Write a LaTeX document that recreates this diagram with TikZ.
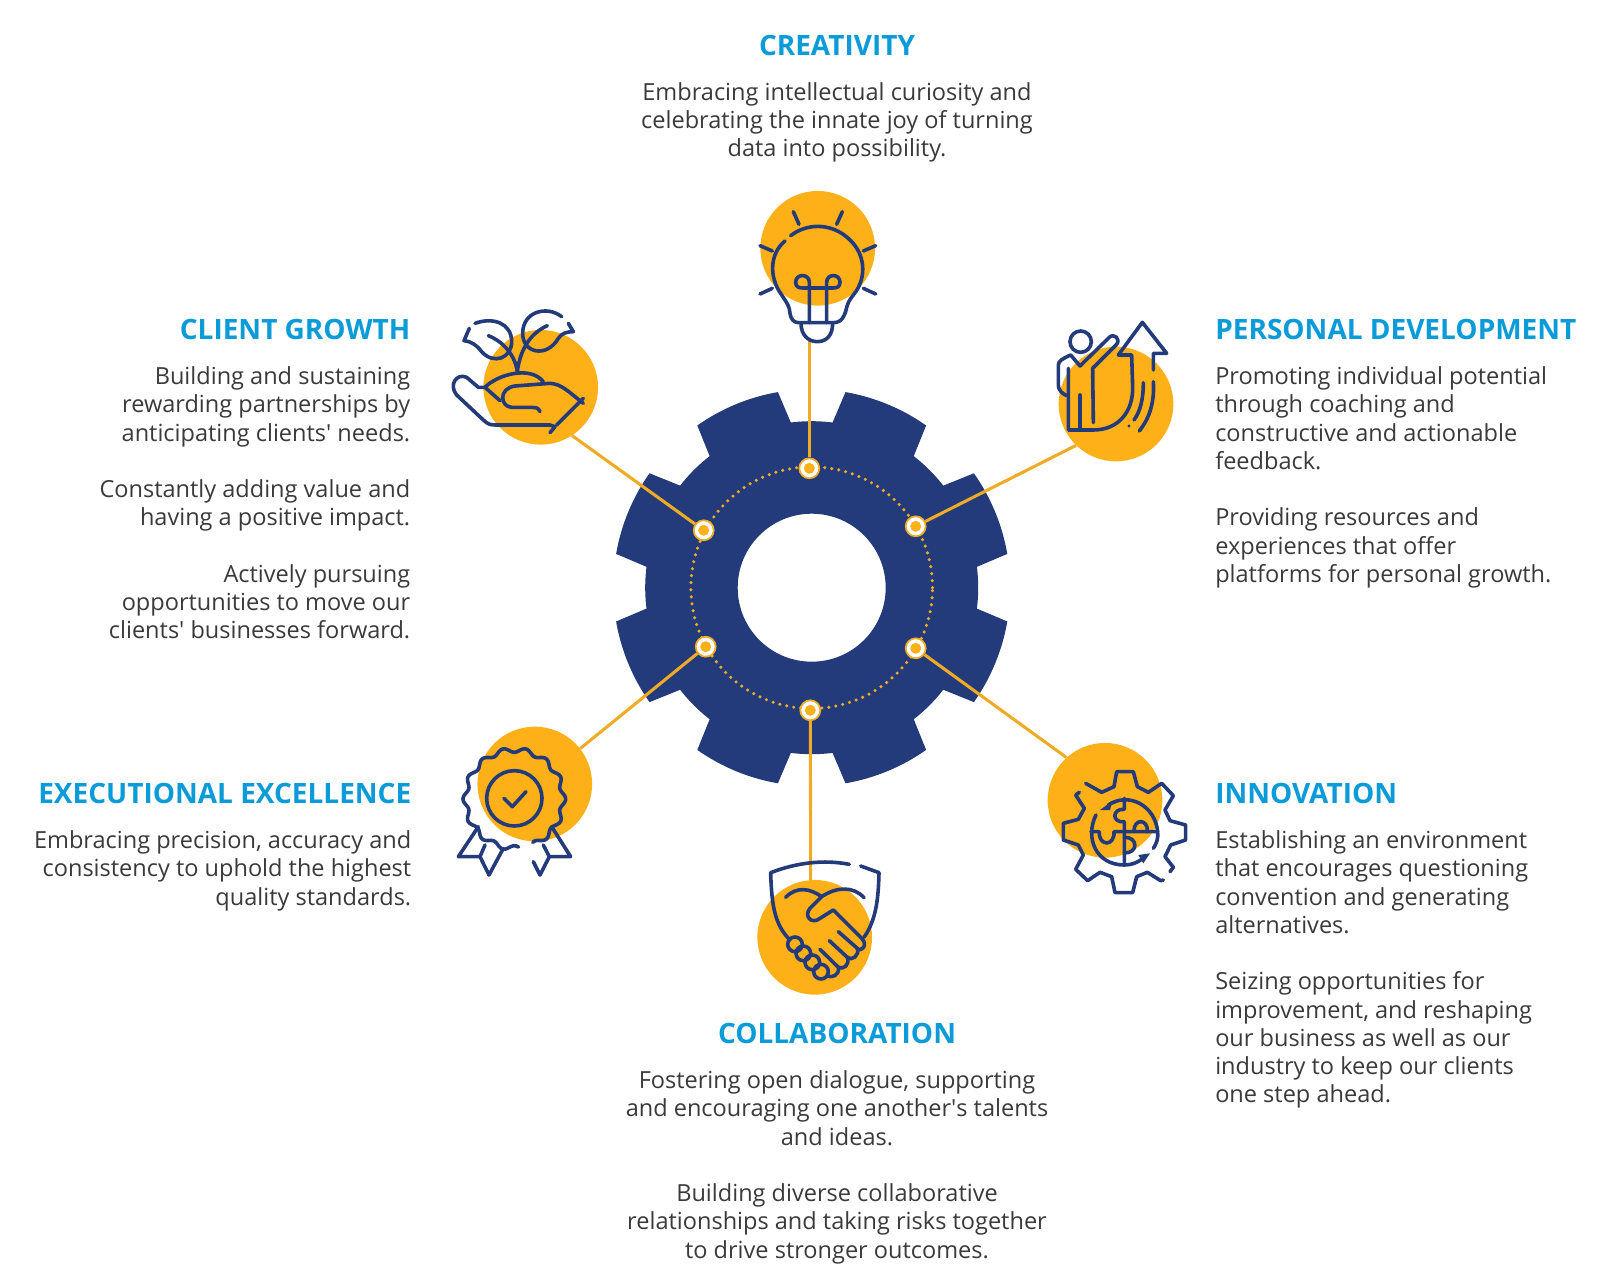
\documentclass[tikz,border=0pt]{standalone}
\usepackage{fontspec}
\setmainfont{Open Sans}
\definecolor{gearblue}{HTML}{233B7A}
\definecolor{spotorange}{HTML}{FDB018}
\definecolor{lineorange}{HTML}{EFAB25}
\definecolor{headblue}{HTML}{0A9BD8}
\definecolor{bodygrey}{HTML}{3A3A3A}
\tikzset{
	spot/.style={circle, fill=spotorange, inner sep=0, minimum size=86pt},
	marker/.style={circle, fill=white, draw=lineorange, line width=1.3pt, inner sep=0, minimum size=15pt,
		path picture={\fill [spotorange] (path picture bounding box.center) circle (4.1pt);}},
	link/.style={draw=lineorange, line width=2.3pt},
	iconline/.style={draw=gearblue, line width=2.7pt, line cap=round, line join=round},
	heading/.style={font=\fontsize{21}{25}\selectfont\bfseries, text=headblue, inner sep=0},
	blurb/.style={font=\fontsize{17.65}{21.17}\selectfont, text=bodygrey, inner sep=0}
}
\begin{document}
\begin{tikzpicture}[x=0.75pt, y=-0.75pt]
	\useasboundingbox (0,0) rectangle (1600,1287);

	\begin{scope}[shift={(811.7,587.7)}, y=0.75pt]
		\fill [gearblue, even odd rule] (0,0) circle (166.5) (0,0) circle (74);
		\foreach \a in {0,45,...,315}
			\fill [gearblue] (\a+7.2:160) -- (\a+7.2:166.5) -- (\a+9.8:198.5) arc (\a+9.8:\a+35.2:198.5) -- (\a+37.8:166.5) -- (\a+37.8:160) -- cycle;
	\end{scope}
	\draw [lineorange, line width=2.6pt, line cap=round, dash pattern=on 0pt off 5.3pt] (811.7,587.7) circle [radius=90.6pt];

	\node [spot] (creativity) at (817.7,248.3) {};
	\node [spot] (personal) at (1116,404) {};
	\node [spot] (innovation) at (1105,800.3) {};
	\node [spot] (collab) at (814.7,937.3) {};
	\node [spot] (excellence) at (534.8,784) {};
	\node [spot] (client) at (540.7,387.3) {};

	\node [marker] (mcreativity) at (809.3,468.3) {};
	\node [marker] (mpersonal) at (915.7,526.3) {};
	\node [marker] (minnovation) at (915.7,648.3) {};
	\node [marker] (mcollab) at (810.3,710.3) {};
	\node [marker] (mexcellence) at (705.7,646.7) {};
	\node [marker] (mclient) at (703.7,530.3) {};

	\coordinate (bulbend) at (809.3,340);
	\draw [link] (mcreativity) -- (bulbend);
	\draw [link] (mpersonal) -- (personal.226.7);
	\draw [link] (minnovation) -- (innovation.132.7);
	\draw [link] (mcollab) -- (collab.94);
	\draw [link] (mexcellence) -- (excellence.38.3);
	\draw [link] (mclient) -- (client.-57);

	% bulb
	\begin{scope}[shift={(730,170)}, scale=1/3, iconline]
		\draw (182,197) .. controls (230,160) and (297,160) .. (345,197) .. controls (410,245) and (412,325) .. (370,375) .. controls (345,405) and (352,420) .. (342,437) .. controls (335,452) and (325,458) .. (310,458) -- (205,458) .. controls (190,458) and (182,445) .. (180,430) .. controls (178,410) and (175,405) .. (155,375) .. controls (115,320) and (120,250) .. (165,213);
		\draw (213,460) .. controls (213,495) and (235,515) .. (262,515) .. controls (290,515) and (308,495) .. (308,460);
		\draw (238,458) -- (238,337) .. controls (238,310) and (197,310) .. (197,337) .. controls (197,350) and (205,354) .. (219,354) -- (308,354) .. controls (322,354) and (330,350) .. (330,337) .. controls (330,310) and (290,310) .. (290,337) -- (290,458);
		\draw (190,125) -- (207,163) (337,125) -- (320,163);
		\draw (90,227) -- (127,243) (437,227) -- (400,243);
		\draw (90,372) -- (127,355) (437,372) -- (400,355);
	\end{scope}

	% person and arrow
	\begin{scope}[shift={(1030,300)}, scale=1/3, iconline]
		\draw (152,125) circle [radius=32];
		\draw (110,287) .. controls (95,280) and (85,270) .. (85,255) -- (85,195) .. controls (85,182) and (100,175) .. (122,165) -- (150,198) -- (238,112) .. controls (252,98) and (275,118) .. (258,135) -- (188,205) -- (190,368);
		\draw (115,205) -- (115,390) -- (190,390) .. controls (265,390) and (310,335) .. (308,260) -- (305,165) -- (265,165) -- (337,67) -- (410,160) -- (370,160) -- (370,210);
		\draw (150,285) -- (150,390);
		\draw (370,245) .. controls (375,320) and (350,365) .. (328,393);
		\draw (340,248) .. controls (340,300) and (330,335) .. (312,360);
		\fill [gearblue] (297,378) circle [radius=5];
	\end{scope}

	% gear and puzzle
	\begin{scope}[shift={(1040,730)}, scale=1/3, iconline]
		\draw (137,160) -- (185,187) -- (222,170) -- (230,125) -- (280,125) -- (292,170) -- (325,187) -- (365,160) -- (400,197) -- (375,240) -- (390,272) -- (437,285) -- (437,330) -- (392,345) -- (375,380) -- (400,412) -- (390,425);
		\draw (370,450) -- (362,452) -- (322,427) -- (290,440) -- (278,488) -- (225,488) -- (215,440) -- (180,427) -- (143,452) -- (107,418) -- (130,375) -- (115,345) -- (70,330) -- (70,280) -- (115,268) -- (133,235) -- (107,195) -- (118,187);
		\draw (205,225) .. controls (265,185) and (345,225) .. (353,305) .. controls (355,325) and (350,340) .. (340,355);
		\draw (168,255) .. controls (135,320) and (165,405) .. (253,405) .. controls (275,405) and (290,398) .. (305,388);
		\fill [gearblue] (180,240) -- (217,213) -- (210,240) -- cycle;
		\fill [gearblue] (330,370) -- (295,375) -- (310,400) -- cycle;
		\draw (253,205) -- (253,238) .. controls (215,235) and (215,280) .. (253,275) -- (253,405);
		\draw (153,305) -- (178,305) .. controls (175,350) and (225,350) .. (222,305) -- (353,305);
		\draw (282,305) .. controls (280,265) and (325,265) .. (322,305);
		\draw (253,322) .. controls (295,320) and (295,372) .. (253,368);
	\end{scope}

	% handshake
	\begin{scope}[shift={(740,850)}, scale=1/3, iconline]
		\draw (328,43) .. controls (250,28) and (170,38) .. (92,68) .. controls (95,170) and (105,225) .. (150,270);
		\draw (362,48) -- (417,68) .. controls (415,150) and (408,210) .. (372,262);
		\draw (137,142) .. controls (170,108) and (210,115) .. (245,140);
		\draw (372,143) .. controls (340,108) and (290,110) .. (245,140) -- (210,175) .. controls (190,198) and (215,225) .. (240,205) -- (280,180) -- (365,265) .. controls (385,285) and (365,308) .. (350,295);
		\draw (295,245) -- (352,295) .. controls (360,315) and (335,335) .. (322,322);
		\draw (268,272) -- (322,322) .. controls (330,345) and (310,360) .. (295,352);
		\draw (240,298) -- (295,352) .. controls (300,375) and (275,385) .. (262,378);
		\draw (165,283) circle [radius=22] (190,310) circle [radius=22] (217,337) circle [radius=22] (243,365) circle [radius=22];
	\end{scope}

	% badge
	\begin{scope}[shift={(440,720)}, scale=1/3, iconline]
		\draw plot [samples=220, domain=-275:67] ({223+(147+7*cos(14*\x))*cos(\x)},{237+(147+7*cos(14*\x))*sin(\x)});
		\draw (223,235) circle [radius=83];
		\draw (192,235) -- (217,260) -- (258,215);
		\draw (115,320) -- (55,410) -- (120,410) -- (147,465) -- (190,385);
		\draw (120,410) -- (135,375);
		\draw (335,320) -- (392,410) -- (328,410) -- (300,465) -- (280,425);
		\draw (328,410) -- (310,375);
	\end{scope}

	% hand and sprout
	\begin{scope}[shift={(440,300)}, scale=1/3, iconline]
		\draw (105,70) .. controls (160,50) and (215,70) .. (215,125) .. controls (215,175) and (160,195) .. (125,155) .. controls (110,135) and (95,125) .. (72,122) -- (88,85);
		\draw (145,107) .. controls (190,125) and (225,165) .. (232,215);
		\draw (365,50) .. controls (320,15) and (248,35) .. (248,100) .. controls (248,160) and (320,175) .. (355,115) .. controls (365,100) and (380,95) .. (400,95) -- (385,70);
		\draw (322,77) .. controls (270,100) and (240,150) .. (232,215);
		\draw (135,262) .. controls (170,225) and (270,195) .. (310,245);
		\draw (135,262) -- (180,302);
		\draw (300,335) .. controls (295,322) and (285,322) .. (275,322) -- (215,322) .. controls (180,320) and (175,265) .. (225,258) -- (330,250) .. controls (365,252) and (385,275) .. (430,310);
		\draw (430,295) -- (350,375);
		\draw (135,262) -- (115,262) -- (80,232) .. controls (50,218) and (25,255) .. (50,285) -- (130,360) .. controls (145,375) and (155,375) .. (170,375) -- (330,375) -- (345,380) -- (330,398);
	\end{scope}

	\node [heading, anchor=north] (hcreativity) at (837,35) {CREATIVITY};
	\node [blurb, anchor=north, align=center] (tcreativity) at (837,82.2) {Embracing intellectual curiosity and\\celebrating the innate joy of turning\\data into possibility.};

	\node [heading, anchor=north west] (hpersonal) at (1215,319) {PERSONAL DEVELOPMENT};
	\node [blurb, anchor=north west, align=left] (tpersonal) at (1215,366.5) {Promoting individual potential\\through coaching and\\constructive and actionable\\feedback.\\[21.17pt]Providing resources and\\experiences that offer\\platforms for personal growth.};

	\node [heading, anchor=north west] (hinnovation) at (1215,782.5) {INNOVATION};
	\node [blurb, anchor=north west, align=left] (tinnovation) at (1215,830.5) {Establishing an environment\\that encourages questioning\\convention and generating\\alternatives.\\[21.17pt]Seizing opportunities for\\improvement, and reshaping\\our business as well as our\\industry to keep our clients\\one step ahead.};

	\node [heading, anchor=north] (hcollab) at (837,1023) {COLLABORATION};
	\node [blurb, anchor=north, align=center] (tcollab) at (837,1070.5) {Fostering open dialogue, supporting\\and encouraging one another\textquotesingle s talents\\and ideas.\\[21.17pt]Building diverse collaborative\\relationships and taking risks together\\to drive stronger outcomes.};

	\node [heading, anchor=north east] (hexcellence) at (411.5,782.5) {EXECUTIONAL EXCELLENCE};
	\node [blurb, anchor=north east, align=right] (texcellence) at (411.5,830.5) {Embracing precision, accuracy and\\consistency to uphold the highest\\quality standards.};

	\node [heading, anchor=north east] (hclient) at (410.5,319) {CLIENT GROWTH};
	\node [blurb, anchor=north east, align=right] (tclient) at (410.5,366.5) {Building and sustaining\\rewarding partnerships by\\anticipating clients\textquotesingle{} needs.\\[21.17pt]Constantly adding value and\\having a positive impact.\\[21.17pt]Actively pursuing\\opportunities to move our\\clients\textquotesingle{} businesses forward.};
\end{tikzpicture}
\end{document}
